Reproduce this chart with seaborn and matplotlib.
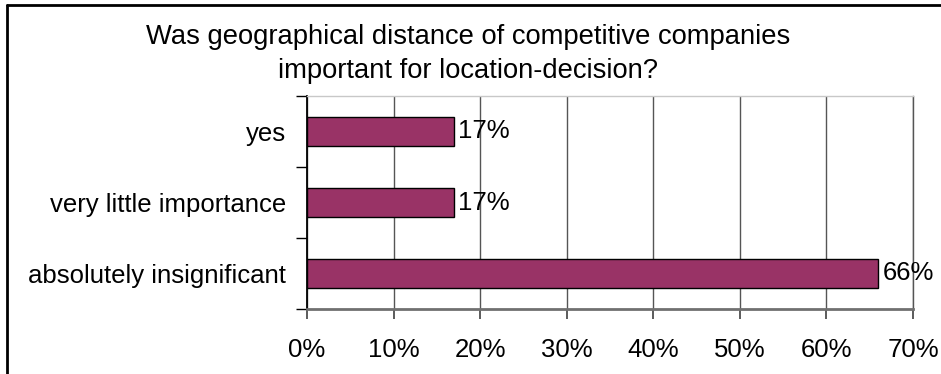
import matplotlib
matplotlib.use("Agg")
import matplotlib.pyplot as plt
import seaborn as sns
import pandas as pd
from matplotlib.lines import Line2D
from matplotlib.ticker import FixedLocator, MultipleLocator, FuncFormatter

categories = ["yes", "very little importance", "absolutely insignificant"]
values = [17, 17, 66]
value_labels = ["17%", "17%", "66%"]
title_lines = ["Was geographical distance of competitive companies",
               "important for location-decision?"]

sns.set_theme(style="white")
plt.rcParams['font.family'] = ['Liberation Sans', 'DejaVu Sans']

W, H = 941, 374
fig = plt.figure(figsize=(W / 100, H / 100), dpi=100)
ax = fig.add_axes([307 / W, 1 - 309 / H, (913 - 307) / W, (309 - 96) / H])

df = pd.DataFrame({"cat": categories, "val": values})
sns.barplot(data=df, x="val", y="cat", orient="h", color="#993366",
            saturation=1, width=0.4, edgecolor="black", linewidth=1, ax=ax)

ax.set_xlim(0, 70)
ax.set_ylim(2.5, -0.5)
ax.xaxis.set_major_locator(MultipleLocator(10))
ax.xaxis.set_major_formatter(FuncFormatter(lambda v, p: f"{v:.0f}%"))
ax.grid(axis="x", color="#555555", linewidth=1)
ax.set_axisbelow(True)
ax.set_xlabel("")
ax.set_ylabel("")

ax.set_yticks([0, 1, 2])
ax.set_yticklabels(categories)
ax.yaxis.set_minor_locator(FixedLocator([-0.5, 0.5, 1.5, 2.5]))
ax.tick_params(axis="y", which="major", length=0, pad=15, labelsize=18.5, colors="black")
ax.tick_params(axis="y", which="minor", length=8, width=1, color="black", left=True)
ax.tick_params(axis="x", which="major", length=7, width=1.2, color="#404040",
               bottom=True, direction="out", pad=14, labelsize=18.5, labelcolor="black")

for s in ["top", "right"]:
    ax.spines[s].set_visible(True)
ax.spines["top"].set_color("#c8c8c8")
ax.spines["top"].set_linewidth(1)
ax.spines["right"].set_color("#555555")
ax.spines["right"].set_linewidth(1)
ax.spines["left"].set_color("black")
ax.spines["left"].set_linewidth(1.3)
ax.spines["bottom"].set_color("#707070")
ax.spines["bottom"].set_linewidth(2)

for i, (v, lab) in enumerate(zip(values, value_labels)):
    ax.text(v + 0.45, i, lab, ha="left", va="center", fontsize=18.5, color="black")

fig.text(468 / W, 1 - 37 / H, title_lines[0], ha="center", va="center",
         fontsize=19.7, color="black")
fig.text(468 / W, 1 - 71 / H, title_lines[1], ha="center", va="center",
         fontsize=19.7, color="black")

# chart area border (left and top)
fig.add_artist(Line2D([7 / W, 7 / W], [0, 1 - 5 / H], transform=fig.transFigure,
                      color="black", linewidth=2))
fig.add_artist(Line2D([7 / W, 1], [1 - 5 / H, 1 - 5 / H], transform=fig.transFigure,
                      color="black", linewidth=2))

fig.savefig("out.png", dpi=100)
